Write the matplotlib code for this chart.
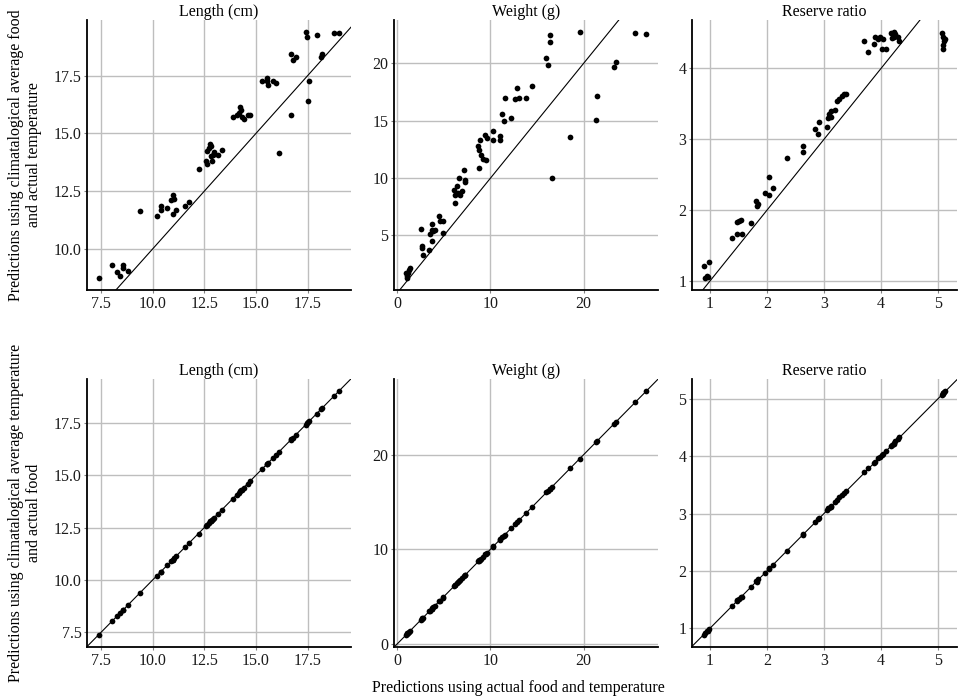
import matplotlib
matplotlib.use("Agg")
from matplotlib import pyplot as plt
from matplotlib.ticker import MultipleLocator, FormatStrFormatter

plt.rcParams['font.family'] = ['Liberation Serif', 'DejaVu Serif']
plt.rcParams['font.size'] = 11.5

# predictions using actual food and temperature (x axis, shared by both rows)
len_x = [7.40, 8.04, 8.28, 8.41, 8.57, 8.57, 8.81, 9.38, 10.21, 10.39, 10.39, 10.71,
         10.90, 10.96, 11.04, 10.96, 11.12, 11.57, 11.74, 12.22, 12.58, 12.61, 12.63,
         12.74, 12.79, 12.82, 12.87, 12.90, 12.99, 12.82, 13.15, 13.36, 13.88, 14.07,
         14.16, 14.24, 14.29, 14.32, 14.40, 14.61, 14.69, 15.29, 15.54, 15.58, 15.54,
         15.83, 15.96, 16.12, 16.69, 16.72, 16.77, 16.93, 17.42, 17.48, 17.53, 17.58,
         17.95, 18.15, 18.21, 18.77, 19.02]
# climatological average food, actual temperature
len_food = [8.75, 9.31, 8.98, 8.83, 9.31, 9.15, 9.02, 11.65, 11.41, 11.86, 11.67, 11.77,
            12.10, 12.32, 12.14, 11.50, 11.68, 11.86, 12.04, 13.47, 13.80, 13.67, 14.23,
            14.37, 14.55, 14.04, 13.81, 14.08, 14.19, 14.45, 14.06, 14.26, 15.73, 15.80,
            15.89, 16.14, 16.00, 15.71, 15.64, 15.78, 15.78, 17.28, 17.42, 17.08, 17.28,
            17.25, 17.18, 14.16, 15.81, 18.45, 18.19, 18.33, 19.38, 19.17, 16.39, 17.28,
            19.28, 18.29, 18.45, 19.35, 19.35]
# climatological average temperature, actual food
len_temp = [7.38, 8.03, 8.26, 8.40, 8.55, 8.58, 8.80, 9.39, 10.20, 10.37, 10.40, 10.70,
            10.88, 10.97, 11.05, 10.94, 11.13, 11.55, 11.75, 12.21, 12.57, 12.62, 12.64,
            12.72, 12.80, 12.83, 12.86, 12.91, 12.98, 12.81, 13.16, 13.35, 13.87, 14.06,
            14.17, 14.23, 14.30, 14.31, 14.41, 14.60, 14.70, 15.28, 15.55, 15.57, 15.53,
            15.84, 15.95, 16.13, 16.68, 16.73, 16.76, 16.94, 17.41, 17.49, 17.52, 17.59,
            17.94, 18.16, 18.20, 18.78, 19.01]

w_x = [0.93, 1.08, 1.18, 1.00, 1.36, 1.29, 2.54, 2.62, 2.69, 2.72, 3.41, 3.51, 3.69,
       3.76, 3.87, 3.69, 4.05, 4.52, 4.59, 4.87, 4.95, 6.20, 6.13, 6.20, 6.38, 6.56,
       6.67, 6.74, 6.92, 7.17, 7.28, 7.31, 8.71, 8.82, 8.82, 8.89, 8.96, 9.25, 9.43,
       9.50, 9.61, 10.22, 10.32, 10.97, 11.04, 11.29, 11.40, 11.58, 12.19, 12.65, 12.90,
       13.08, 13.80, 14.44, 15.99, 16.16, 16.34, 16.42, 16.59, 18.57, 19.57, 21.33,
       21.43, 23.23, 23.48, 25.55, 26.70]
w_food = [1.75, 1.46, 1.70, 1.32, 2.19, 1.99, 5.58, 3.93, 4.07, 3.26, 3.72, 5.09, 5.52,
          5.96, 5.38, 4.51, 5.52, 6.74, 6.25, 5.23, 6.25, 7.84, 9.00, 8.57, 9.29, 8.71,
          10.01, 8.57, 8.86, 10.74, 9.64, 9.87, 12.77, 12.48, 10.88, 13.29, 12.04, 11.67,
          13.78, 11.61, 13.49, 14.07, 13.29, 13.35, 13.64, 15.61, 14.94, 16.97, 15.23,
          16.91, 17.84, 16.97, 16.97, 18.04, 20.45, 19.87, 22.48, 21.90, 10.01, 13.58,
          22.71, 15.03, 17.12, 19.72, 20.16, 22.62, 22.57]
w_temp = [0.95, 1.10, 1.16, 1.02, 1.38, 1.27, 2.56, 2.60, 2.71, 2.70, 3.43, 3.50, 3.71,
          3.74, 3.89, 3.67, 4.03, 4.54, 4.57, 4.89, 4.93, 6.22, 6.11, 6.18, 6.40, 6.54,
          6.69, 6.72, 6.94, 7.15, 7.30, 7.29, 8.73, 8.80, 8.84, 8.87, 8.98, 9.23, 9.45,
          9.48, 9.63, 10.20, 10.34, 10.95, 11.06, 11.27, 11.42, 11.56, 12.21, 12.63, 12.92,
          13.06, 13.82, 14.42, 16.01, 16.14, 16.36, 16.40, 16.61, 18.55, 19.59, 21.31,
          21.45, 23.21, 23.50, 25.53, 26.72]

r_x = [0.90, 0.92, 0.96, 0.98, 0.97, 1.39, 1.47, 1.56, 1.48, 1.51, 1.54, 1.73, 1.81,
       1.82, 1.85, 1.96, 2.04, 2.04, 2.10, 2.35, 2.64, 2.64, 2.85, 2.89, 2.91, 3.06,
       3.08, 3.09, 3.12, 3.13, 3.20, 3.23, 3.27, 3.31, 3.35, 3.39, 3.71, 3.78, 3.87,
       3.89, 3.95, 3.98, 4.01, 4.04, 4.08, 4.17, 4.22, 4.25, 4.29, 4.19, 4.32, 4.22,
       5.06, 5.09, 5.11, 5.08, 5.09, 5.12]
r_food = [1.21, 1.05, 1.08, 1.27, 1.06, 1.61, 1.66, 1.66, 1.83, 1.85, 1.86, 1.82, 2.13,
          2.06, 2.09, 2.25, 2.22, 2.47, 2.31, 2.74, 2.90, 2.82, 3.15, 3.08, 3.24, 3.17,
          3.30, 3.36, 3.40, 3.32, 3.42, 3.54, 3.57, 3.61, 3.64, 3.64, 4.39, 4.23, 4.35,
          4.44, 4.41, 4.44, 4.27, 4.41, 4.28, 4.50, 4.51, 4.48, 4.45, 4.43, 4.39, 4.44,
          4.50, 4.44, 4.38, 4.33, 4.27, 4.41]
r_temp = [0.89, 0.93, 0.95, 0.99, 0.96, 1.40, 1.48, 1.55, 1.49, 1.52, 1.55, 1.72, 1.82,
          1.81, 1.86, 1.97, 2.05, 2.03, 2.11, 2.35, 2.65, 2.63, 2.86, 2.90, 2.92, 3.07,
          3.09, 3.10, 3.11, 3.14, 3.21, 3.24, 3.28, 3.32, 3.36, 3.40, 3.72, 3.79, 3.88,
          3.90, 3.96, 3.99, 4.02, 4.03, 4.09, 4.18, 4.21, 4.26, 4.30, 4.20, 4.33, 4.23,
          5.07, 5.10, 5.12, 5.09, 5.08, 5.13]

titles = ["Length (cm)", "Weight (g)", "Reserve ratio"]
xs = [len_x, w_x, r_x]
rows = [[len_food, w_food, r_food], [len_temp, w_temp, r_temp]]
steps_x = [2.5, 10, 1]
steps_y = [[2.5, 5, 1], [2.5, 10, 1]]
fmts = ['%.1f', '%d', '%d']

ylabels = ["Predictions using climatalogical average food\nand actual temperature",
           "Predictions using climatalogical average temperature\nand actual food"]
xlabel = "Predictions using actual food and temperature"

W, H = 963, 700
fig = plt.figure(figsize=(W / 100, H / 100), dpi=100)

cols_px = [(87, 351), (394, 658), (692, 957)]
rows_px = [(20, 290), (379, 647)]

for r, (top, bot) in enumerate(rows_px):
    for c, (left, right) in enumerate(cols_px):
        ax = fig.add_axes([left / W, 1 - bot / H, (right - left) / W, (bot - top) / H])
        ax.scatter(xs[c], rows[r][c], s=17, color='black', linewidths=0, zorder=3)
        ax.margins(0.05)
        xl, yl = ax.get_xlim(), ax.get_ylim()
        ax.axline((xl[0], xl[0]), slope=1, color='black', lw=0.8, zorder=2)
        ax.set_xlim(xl)
        ax.set_ylim(yl)
        ax.set_title(titles[c], pad=2.5, fontsize=11.5)
        ax.xaxis.set_major_locator(MultipleLocator(steps_x[c]))
        ax.yaxis.set_major_locator(MultipleLocator(steps_y[r][c]))
        ax.xaxis.set_major_formatter(FormatStrFormatter(fmts[c]))
        ax.yaxis.set_major_formatter(FormatStrFormatter(fmts[c]))
        ax.grid(True, color='#BEBEBE', lw=1.0, zorder=0)
        ax.set_axisbelow(True)
        ax.spines['right'].set_visible(False)
        ax.spines['top'].set_visible(False)
        ax.spines['left'].set_linewidth(1.3)
        ax.spines['bottom'].set_linewidth(1.3)
        ax.tick_params(length=2.5, width=0.8, color='#808080', pad=1.5,
                       labelsize=11.5, labelcolor='#1a1a1a')

for r, (top, bot) in enumerate(rows_px):
    fig.text(25 / W, 1 - (top + bot) / 2 / H, ylabels[r], rotation=90,
             ha='center', va='center', multialignment='center')

fig.text(518 / W, 1 - 688 / H, xlabel, ha='center', va='center')

fig.savefig("out.png", dpi=100)
